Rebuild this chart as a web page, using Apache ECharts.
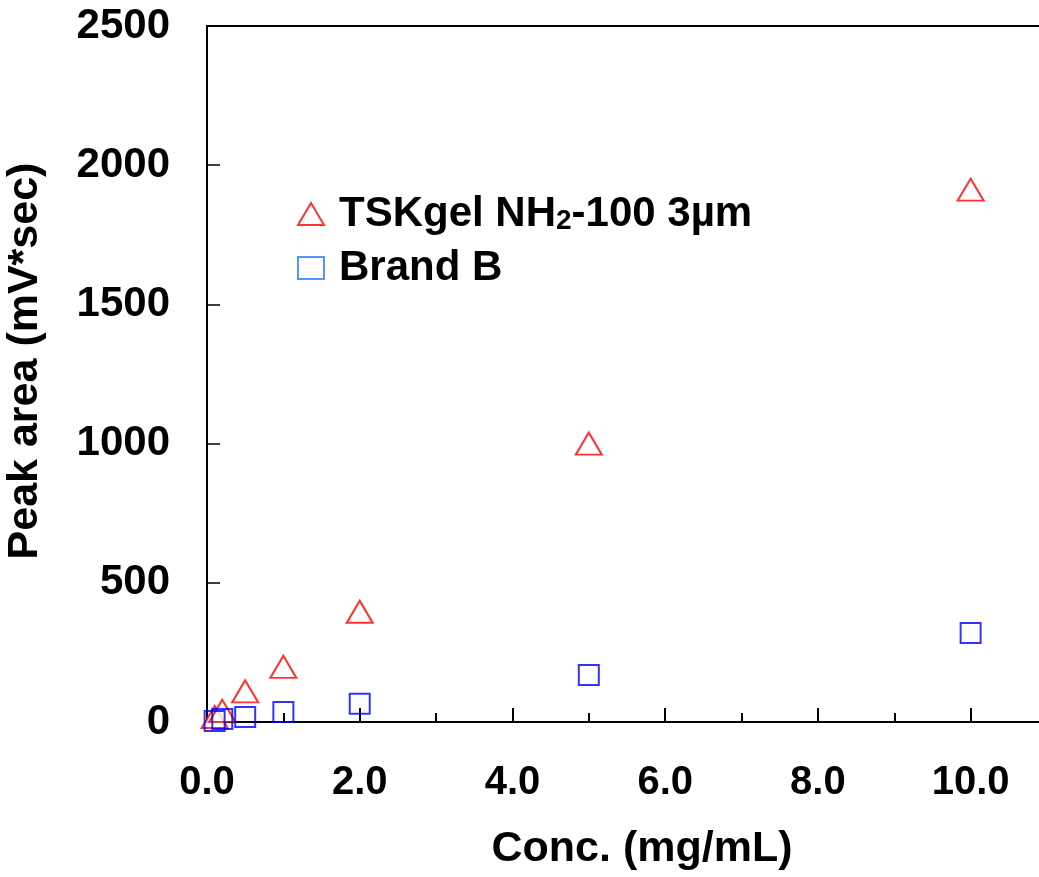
<!DOCTYPE html>
<html>
<head>
<meta charset="utf-8">
<script src="https://cdn.jsdelivr.net/npm/echarts@6/dist/echarts.min.js"></script>
<style>
  html, body { margin: 0; padding: 0; background: #fff; }
  #chart { width: 1039px; height: 877px; }
</style>
</head>
<body>
<div id="chart"></div>
<script>
// concentration (mg/mL)
var conc = [0.1, 0.2, 0.5, 1, 2, 5, 10];
// peak areas (mV*sec)
var tskValues = [18, 40, 110, 198, 396, 1000, 1912];
var brandBValues = [4, 11, 18, 36, 66, 169, 320];
var xTicks = [0, 2, 4, 6, 8, 10];
var yTicks = [0, 500, 1000, 1500, 2000, 2500];

function pairs(xs, ys) {
    return xs.map(function (x, i) { return [x, ys[i]]; });
}

var font = 'Arial, "Liberation Sans", sans-serif';

var chart = echarts.init(document.getElementById('chart'));
var option = {
    backgroundColor: '#fff',
    animation: false,
    grid: {
        left: 207,
        top: 26,
        width: 840,
        bottom: 155,
        outerBoundsMode: 'none',
        show: true,
        borderColor: '#000',
        borderWidth: 2
    },
    legend: {
        orient: 'vertical',
        left: 297,
        top: 193,
        padding: 0,
        itemWidth: 26,
        itemHeight: 22,
        itemGap: 12,
        textStyle: {
            fontFamily: font,
            fontWeight: 'bold',
            fontSize: 42,
            color: '#000',
            padding: [0, 0, 0, 10],
            rich: {
                a: { fontFamily: font, fontWeight: 'bold', fontSize: 42, color: '#000' },
                s: { fontFamily: font, fontWeight: 'bold', fontSize: 28, color: '#000', verticalAlign: 'bottom' }
            }
        },
        formatter: function (name) {
            if (name === 'TSKgel NH2-100 3µm') {
                return '{a|TSKgel NH}{s|2}{a|-100 3µm}';
            }
            return '{a|' + name + '}';
        },
        data: [
            { name: 'TSKgel NH2-100 3µm', icon: 'triangle' },
            { name: 'Brand B', icon: 'rect', itemStyle: { color: '#fff', borderColor: '#2a78ff', borderWidth: 2 } }
        ]
    },
    xAxis: {
        type: 'value',
        min: xTicks[0],
        max: 11,
        interval: 2,
        name: 'Conc. (mg/mL)',
        nameLocation: 'middle',
        nameGap: 106,
        nameTextStyle: {
            fontFamily: font, fontWeight: 'bold', fontSize: 43, color: '#000',
            padding: [0, 0, 0, 30]
        },
        axisLine: { show: true, lineStyle: { color: '#000', width: 2 } },
        axisTick: { show: true, inside: true, length: 14, lineStyle: { color: '#000', width: 2 } },
        minorTick: { show: true, splitNumber: 2, length: 9, lineStyle: { color: '#000', width: 2 } },
        splitLine: { show: false },
        axisLabel: {
            showMaxLabel: false,
            margin: 41,
            fontFamily: font, fontWeight: 'bold', fontSize: 40, color: '#000',
            formatter: function (v) { return xTicks.indexOf(v) >= 0 ? v.toFixed(1) : ''; }
        }
    },
    yAxis: {
        type: 'value',
        min: yTicks[0],
        max: yTicks[yTicks.length - 1],
        interval: 500,
        name: 'Peak area (mV*sec)',
        nameLocation: 'middle',
        nameGap: 160,
        nameRotate: 90,
        nameTextStyle: {
            fontFamily: font, fontWeight: 'bold', fontSize: 43, color: '#000',
            padding: [0, 0, 0, 26]
        },
        axisLine: { show: true, lineStyle: { color: '#000', width: 2 } },
        axisTick: { show: true, inside: true, length: 13, lineStyle: { color: '#000', width: 1.5 } },
        splitLine: { show: false },
        axisLabel: {
            margin: 37,
            fontFamily: font, fontWeight: 'bold', fontSize: 42, color: '#000',
            formatter: function (v) { return String(v); }
        }
    },
    series: [
        {
            name: 'TSKgel NH2-100 3µm',
            type: 'scatter',
            symbol: 'triangle',
            symbolSize: [26, 22],
            itemStyle: { color: '#fff', borderColor: '#ff0000', borderWidth: 2 },
            data: pairs(conc, tskValues)
        },
        {
            name: 'Brand B',
            type: 'scatter',
            symbol: 'rect',
            symbolSize: 20,
            itemStyle: { color: 'rgba(255,255,255,0)', borderColor: '#0000ff', borderWidth: 2 },
            data: pairs(conc, brandBValues)
        }
    ]
};
chart.setOption(option);
</script>
</body>
</html>
